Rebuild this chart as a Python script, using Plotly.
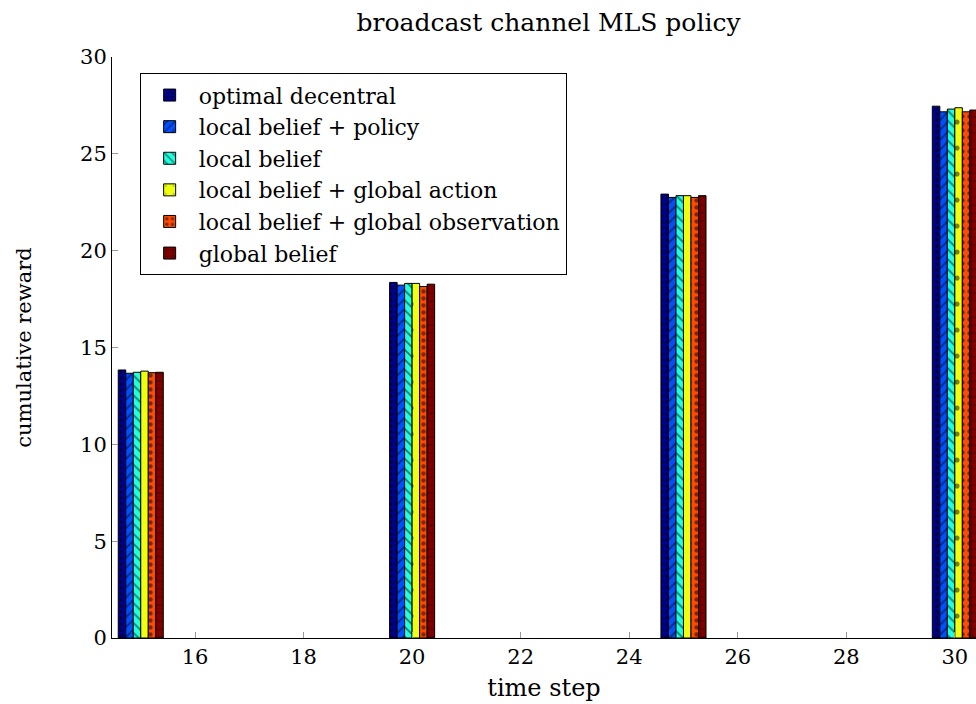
import plotly.graph_objects as go

time_steps = [15, 20, 25, 30]
series_names = [
    "optimal decentral",
    "local belief + policy",
    "local belief",
    "local belief + global action",
    "local belief + global observation",
    "global belief",
]
optimal_decentral = [13.84, 18.36, 22.92, 27.46]
local_belief_policy = [13.67, 18.22, 22.75, 27.17]
local_belief = [13.72, 18.31, 22.84, 27.31]
local_belief_global_action = [13.78, 18.31, 22.84, 27.38]
local_belief_global_obs = [13.70, 18.15, 22.75, 27.17]
global_belief = [13.72, 18.27, 22.84, 27.26]

values = [optimal_decentral, local_belief_policy, local_belief,
          local_belief_global_action, local_belief_global_obs, global_belief]
colors = ["#00008f", "#0050ff", "#20ffdf", "#efff10", "#ff4a00", "#800000"]
patterns = [".", "/", "\\", ".", ".", "+"]
pat_sizes = [6, 7, 7, 26, 7, 8]
pat_solid = [0.3, 0.25, 0.25, 0.03, 0.3, 0.15]

FONT = "DejaVu Serif"
fig = go.Figure()
for name, vals, c, p, ps, so in zip(series_names, values, colors, patterns, pat_sizes, pat_solid):
    fig.add_trace(go.Bar(
        x=time_steps, y=vals, name=name,
        marker=dict(color=c, line=dict(color="black", width=1),
                    pattern=dict(shape=p, fgcolor="black", size=ps, solidity=so)),
    ))

fig.update_layout(
    width=976, height=704,
    margin=dict(l=112, r=0, t=57, b=66),
    plot_bgcolor="white", paper_bgcolor="white",
    barmode="group", bargap=0.834, bargroupgap=0,
    font=dict(family=FONT, size=22, color="black"),
    title=dict(text="broadcast channel MLS policy", x=0.562, xanchor="center",
               y=0.969, yanchor="middle", font=dict(family=FONT, size=25)),
    showlegend=True,
    legend=dict(x=0.032, y=0.972, xanchor="left", yanchor="top",
                bordercolor="black", borderwidth=1, bgcolor="white",
                font=dict(family=FONT, size=22), tracegroupgap=0,
                itemwidth=48, entrywidth=470, entrywidthmode="pixels"),
    xaxis=dict(range=[14.47, 30.39], tick0=0, dtick=2, ticks="inside",
               ticklen=6, tickcolor="#999999", showline=True, linecolor="black",
               linewidth=1, showgrid=False, zeroline=False,
               title=dict(text="time step", font=dict(family=FONT, size=24), standoff=10),
               tickfont=dict(family=FONT, size=21)),
    yaxis=dict(range=[0, 30], tick0=0, dtick=5, ticks="inside", ticklen=6,
               tickcolor="#999999", showline=True, linecolor="black",
               linewidth=1, showgrid=False, zeroline=False,
               title=dict(text="cumulative reward", font=dict(family=FONT, size=21), standoff=42),
               tickfont=dict(family=FONT, size=21)),
)

fig.write_html("out.html")
